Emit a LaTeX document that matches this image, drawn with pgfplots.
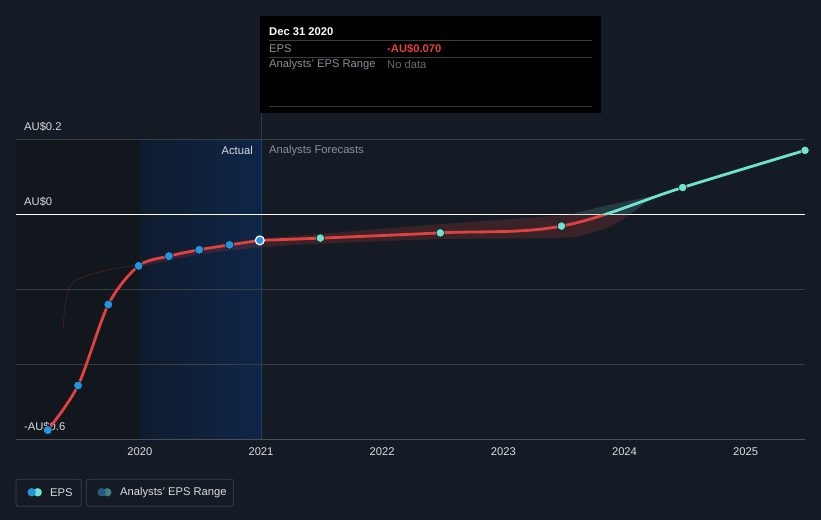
\documentclass[border=0pt]{standalone}
\usepackage{fontspec}
\setmainfont{Liberation Sans}
\usepackage{pgfplots}
\pgfplotsset{compat=1.18}
\usepgfplotslibrary{fillbetween}
\tikzset{fill between/on layer=main}
\definecolor{bg}{HTML}{151B24}
\definecolor{darkband}{HTML}{12161D}
\definecolor{bandL}{HTML}{101B2E}
\definecolor{bandR}{HTML}{0E2647}
\definecolor{hover}{HTML}{1B3A66}
\definecolor{gridc}{HTML}{383D46}
\definecolor{axisc}{HTML}{4A4F57}
\definecolor{epsred}{HTML}{E2423F}
\definecolor{epsteal}{HTML}{6EE3D1}
\definecolor{epsblue}{HTML}{2394E0}
\definecolor{labelc}{HTML}{DADCDF}
\definecolor{mutedc}{HTML}{8C9097}
\definecolor{nodatac}{HTML}{6A6A6A}
\definecolor{tipsep}{HTML}{3C3C3C}
\definecolor{legborder}{HTML}{3A3F48}
\definecolor{legblue}{HTML}{245A8A}
\definecolor{legteal}{HTML}{3F7F7C}
\newcommand{\f}{\fontsize{11.2bp}{13bp}\selectfont}
\begin{document}
\begin{tikzpicture}[x=1bp,y=1bp]
\fill[bg] (0,0) rectangle (821,520);
% background bands
\fill[darkband] (16,80.5) rectangle (140,380.5);
\shade[left color=bandL, right color=bandR] (140,80.5) rectangle (261.3,380.5);
\draw[hover, line width=1bp] (261.3,80.5) -- (261.3,407);
% grid
\foreach \yy in {155.5,230.5,380.5} \draw[gridc, line width=0.8bp] (16,\yy) -- (805,\yy);
\draw[white, line width=1.2bp] (16,305.5) -- (805,305.5);
\draw[axisc, line width=1bp] (16,80.5) -- (805,80.5);
% y labels
\node[anchor=west, inner sep=0, text=labelc] at (24,393) {\f AU\$0.2};
\node[anchor=west, inner sep=0, text=labelc] at (24,318) {\f AU\$0};
\node[anchor=west, inner sep=0, text=labelc] at (24,93) {\f -AU\$0.6};
% Actual / Forecast labels
\node[anchor=east, inner sep=0, text=labelc] at (253,369) {\f Actual};
\node[anchor=west, inner sep=0, text=mutedc] at (269,369) {\f Analysts Forecasts};
\begin{axis}[
  at={(16bp,80.5bp)}, anchor=south west,
  scale only axis, width=789bp, height=300bp,
  xmin=2018.978, xmax=2025.49, ymin=-0.6, ymax=0.2,
  axis lines*=left, axis line style={draw=none},
  ytick=\empty,
  xtick={2020,2021,2022,2023,2024,2025},
  xticklabels={2020,2021,2022,2023,2024,2025},
  major tick length=0pt,
  xticklabel style={font=\f, text=labelc, yshift=-5bp},
  clip=true,
]
% analysts range
\addplot[name path=up, draw=none, smooth, forget plot] coordinates {
 (2019.99,-0.134) (2020.5,-0.093) (2021.0,-0.066) (2021.48,-0.052)
 (2022.47,-0.026) (2023.48,-0.002) (2023.63,0.007) (2023.87,0.025)
 (2024.2,0.047) (2024.26,0.05) (2024.49,0.072)};
\addplot[name path=lo, draw=none, smooth, forget plot] coordinates {
 (2019.99,-0.14) (2020.5,-0.106) (2021.0,-0.088) (2021.48,-0.078)
 (2022.47,-0.066) (2023.48,-0.062) (2023.7,-0.051) (2023.9,-0.029) (2024.06,0.004)
 (2024.26,0.05) (2024.49,0.072)};
\begin{scope}
\clip (axis cs:2018,-1) rectangle (axis cs:2026,0);
\addplot[fill=epsred, fill opacity=0.18, draw=none, forget plot]
  fill between[of=up and lo];
\end{scope}
\begin{scope}
\clip (axis cs:2018,0) rectangle (axis cs:2026,1);
\addplot[fill=epsteal, fill opacity=0.17, draw=none, forget plot]
  fill between[of=up and lo];
\end{scope}
\addplot[epsred, opacity=0.25, line width=0.7bp, smooth, forget plot] coordinates {
 (2019.365,-0.308) (2019.39,-0.228) (2019.45,-0.18) (2019.67,-0.153) (2019.99,-0.134)};
% EPS line: actual part
\addplot[epsred, line width=2.8bp, smooth, forget plot] coordinates {
 (2019.24,-0.575) (2019.49,-0.456) (2019.74,-0.240) (2019.99,-0.137)
 (2020.24,-0.111) (2020.49,-0.094) (2020.74,-0.081) (2020.99,-0.069)};
% EPS line: forecast part
\begin{scope}
\clip (axis cs:2018,-1) rectangle (axis cs:2026,0);
\addplot[epsred, line width=2.8bp, smooth, tension=0.6, forget plot] coordinates {
 (2020.99,-0.069) (2021.49,-0.063) (2022.48,-0.049) (2023.48,-0.031) (2024.48,0.072) (2025.49,0.171)};
\end{scope}
\begin{scope}
\clip (axis cs:2018,0) rectangle (axis cs:2026,1);
\addplot[epsteal, line width=2.8bp, smooth, tension=0.6, forget plot] coordinates {
 (2020.99,-0.069) (2021.49,-0.063) (2022.48,-0.049) (2023.48,-0.031) (2024.48,0.072) (2025.49,0.171)};
\end{scope}
% markers
\addplot[only marks, mark=*, mark size=4.4bp, mark options={fill=epsblue, draw=none}, forget plot] coordinates {
 (2019.24,-0.575) (2019.49,-0.456) (2019.74,-0.240) (2019.99,-0.137)
 (2020.24,-0.111) (2020.49,-0.094) (2020.74,-0.081)};
\addplot[only marks, mark=*, mark size=4.4bp, mark options={fill=epsblue, draw=white, line width=1.2bp}, forget plot] coordinates {
 (2020.99,-0.069)};
\addplot[only marks, mark=*, mark size=4.2bp, mark options={fill=epsteal, draw=none}, forget plot] coordinates {
 (2021.49,-0.063) (2022.48,-0.049) (2023.48,-0.031) (2024.48,0.072) (2025.49,0.171)};
\end{axis}
% tooltip
\fill[black] (260,407) rectangle (601,504);
\draw[tipsep, line width=0.8bp] (268.7,479.7) -- (592.3,479.7);
\draw[tipsep, line width=0.8bp] (268.7,462.7) -- (592.3,462.7);
\draw[tipsep, line width=0.8bp] (268.7,413.7) -- (592.3,413.7);
\node[anchor=west, inner sep=0, text=white] at (269,488.5) {\f\bfseries Dec 31 2020};
\node[anchor=west, inner sep=0, text=mutedc] at (269,471.7) {\f EPS};
\node[anchor=west, inner sep=0, text=epsred] at (387,471.7) {\f\bfseries -AU\$0.070};
\node[anchor=west, inner sep=0, text=mutedc] at (269,455) {\f Analysts' EPS Range};
\node[anchor=west, inner sep=0, text=nodatac] at (387,455) {\f No data};
% legend
\draw[legborder, line width=0.8bp, rounded corners=2bp] (16,13.7) rectangle (81.3,40.7);
\draw[legborder, line width=0.8bp, rounded corners=2bp] (86.3,13.7) rectangle (233.3,40.7);
\fill[epsteal] (37.7,27.7) circle (4.2);
\fill[epsblue] (31.7,27.7) circle (4.2);
\node[anchor=west, inner sep=0, text=labelc] at (50,27.7) {\f EPS};
\fill[legteal] (107.3,27.7) circle (4.2);
\fill[legblue] (101.7,27.7) circle (4.2);
\node[anchor=west, inner sep=0, text=labelc] at (120,27.7) {\f Analysts' EPS Range};
\end{tikzpicture}
\end{document}
